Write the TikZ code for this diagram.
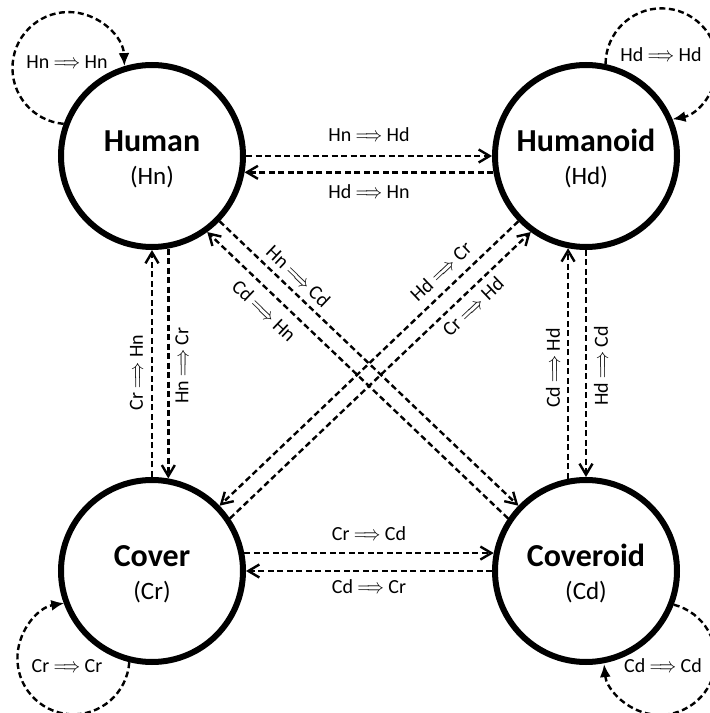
\documentclass[tikz,border=0pt]{standalone}
\usepackage{fontspec}
\usepackage{graphicx}
\setmainfont{Carlito}
\usetikzlibrary{arrows.meta}

\tikzset{
    state/.style={circle,draw,line width=6pt,minimum size=182pt,inner sep=0pt},
    statename/.style={anchor=base,font=\fontsize{32}{36}\selectfont\bfseries},
    stateabbr/.style={anchor=base,font=\fontsize{25}{30}\selectfont},
    trans/.style={line width=2.4pt,dash pattern=on 6pt off 3.5pt,
        -{Straight Barb[length=11pt,width=13pt]}},
    selftrans/.style={line width=2.4pt,dash pattern=on 6pt off 3.5pt,
        -{Latex[length=13pt,width=11pt]}},
    translabel/.style={font=\fontsize{20}{24}\selectfont,inner sep=3pt}
}
\newcommand{\imp}[2]{#1 \scalebox{0.82}[1]{$\Longrightarrow$} #2}

\begin{document}
\begin{tikzpicture}[x=1pt,y=1pt]
                \useasboundingbox (0,0) rectangle (710,713);

                \node[state] (hn) at (152,557) {};
                \node[state] (hd) at (586,557) {};
                \node[state] (cr) at (152,142) {};
                \node[state] (cd) at (586,142) {};

                \node[statename] (hnname) at ([yshift=4pt]hn.center) {Human};
                \node[stateabbr] (hnabbr) at ([yshift=-29pt]hn.center) {(Hn)};
                \node[statename] (hdname) at ([yshift=4pt]hd.center) {Humanoid};
                \node[stateabbr] (hdabbr) at ([yshift=-29pt]hd.center) {(Hd)};
                \node[statename] (crname) at ([yshift=4pt]cr.center) {Cover};
                \node[stateabbr] (crabbr) at ([yshift=-29pt]cr.center) {(Cr)};
                \node[statename] (cdname) at ([yshift=4pt]cd.center) {Coveroid};
                \node[stateabbr] (cdabbr) at ([yshift=-29pt]cd.center) {(Cd)};

                \draw[selftrans] (hn.160) arc[start angle=265.1,end angle=2,radius=56];
                \draw[selftrans] (hd.78) arc[start angle=179.7,end angle=-78.7,radius=56];
                \draw[selftrans] (cr.256) arc[start angle=-3.9,end angle=-260.6,radius=56];
                \draw[selftrans] (cd.-21) arc[start angle=75.6,end angle=-174.7,radius=56];

                \node[translabel] (hnhn) at (67,651) {\imp{Hn}{Hn}};
                \node[translabel] (hdhd) at (661,658) {\imp{Hd}{Hd}};
                \node[translabel] (crcr) at (67,47) {\imp{Cr}{Cr}};
                \node[translabel] (cdcd) at (663,47) {\imp{Cd}{Cd}};

                \draw[trans] (hn.0) -- (hd.180)
                    node[translabel,midway,above=10pt] (hnhd) {\imp{Hn}{Hd}};
                \draw[trans] (hd.190) -- (hn.-10)
                    node[translabel,midway,below=8pt] (hdhn) {\imp{Hd}{Hn}};
                \draw[trans] (cr.11) -- (cd.169)
                    node[translabel,midway,above=8pt] (crcd) {\imp{Cr}{Cd}};
                \draw[trans] (cd.180) -- (cr.0)
                    node[translabel,midway,below=4pt] (cdcr) {\imp{Cd}{Cr}};

                \draw[trans] (cr.90) -- (hn.270)
                    node[translabel,pos=0.46,rotate=90,anchor=south,outer sep=6pt] (crhn) {\imp{Cr}{Hn}};
                \draw[trans] (hn.-80) -- (cr.80)
                    node[translabel,pos=0.51,rotate=90,anchor=north,outer sep=4pt] (hncr) {\imp{Hn}{Cr}};
                \draw[trans] (cd.101) -- (hd.259)
                    node[translabel,pos=0.48,rotate=90,anchor=south,outer sep=5pt] (cdhd) {\imp{Cd}{Hd}};
                \draw[trans] (hd.270) -- (cd.90)
                    node[translabel,pos=0.51,rotate=90,anchor=north,outer sep=5pt] (hdcd) {\imp{Hd}{Cd}};

                \draw[trans] (hn.-44) -- (cd.136)
                    node[translabel,pos=0.23,sloped,above=3.5pt] (hncd) {\imp{Hn}{Cd}};
                \draw[trans] (cd.146) -- (hn.-54)
                    node[translabel,pos=0.77,sloped,below=6.5pt] (cdhn) {\imp{Cd}{Hn}};
                \draw[trans] (hd.224) -- (cr.44)
                    node[translabel,pos=0.22,sloped,above=6pt] (hdcr) {\imp{Hd}{Cr}};
                \draw[trans] (cr.34) -- (hd.234)
                    node[translabel,pos=0.775,sloped,below=3pt] (crhd) {\imp{Cr}{Hd}};
\end{tikzpicture}
\end{document}
